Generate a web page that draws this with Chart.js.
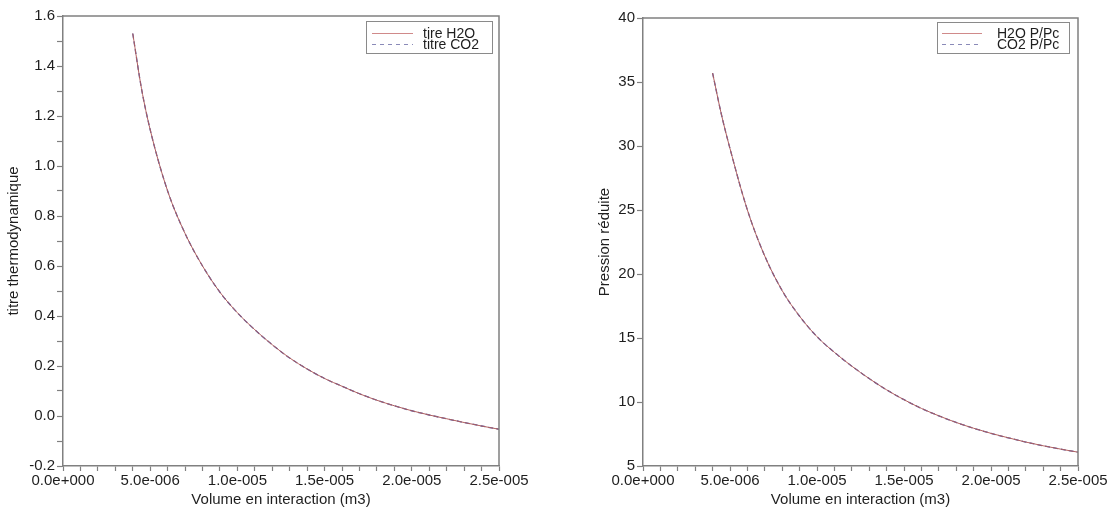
<!DOCTYPE html>
<html><head><meta charset="utf-8">
<script src="https://cdn.jsdelivr.net/npm/chart.js@4.4.0/dist/chart.umd.min.js"></script>
<style>
html,body{margin:0;padding:0;background:#fff;width:1111px;height:514px;overflow:hidden;}
canvas{position:absolute;top:0;}
#c1{left:0;} #c2{left:591px;}
</style></head><body>
<canvas id="c1" width="560" height="514"></canvas>
<canvas id="c2" width="520" height="514"></canvas>
<script>
// Volume en interaction (m3)
const volumes = [4e-6, 4.5e-6, 5e-6, 6e-6, 7e-6, 8e-6, 9e-6, 10e-6, 11e-6, 12e-6, 13e-6, 14e-6, 15e-6, 16e-6, 17e-6, 18e-6, 19e-6, 20e-6, 21e-6, 22e-6, 23e-6, 24e-6, 25e-6];
// titre thermodynamique
const titreH2O = [1.53, 1.31, 1.145, 0.90, 0.73, 0.60, 0.495, 0.413, 0.345, 0.285, 0.232, 0.188, 0.15, 0.119, 0.089, 0.063, 0.041, 0.021, 0.004, -0.011, -0.026, -0.04, -0.053];
const titreCO2 = [1.53, 1.31, 1.145, 0.90, 0.73, 0.60, 0.495, 0.413, 0.345, 0.285, 0.232, 0.188, 0.15, 0.119, 0.089, 0.063, 0.041, 0.021, 0.004, -0.011, -0.026, -0.04, -0.053];
// Pression réduite
const ppcH2O = [35.7, 32.5, 29.8, 25.0, 21.4, 18.7, 16.7, 15.1, 13.88, 12.8, 11.83, 10.95, 10.18, 9.5, 8.92, 8.4, 7.95, 7.55, 7.2, 6.87, 6.58, 6.32, 6.08];
const ppcCO2 = [35.7, 32.5, 29.8, 25.0, 21.4, 18.7, 16.7, 15.1, 13.88, 12.8, 11.83, 10.95, 10.18, 9.5, 8.92, 8.4, 7.95, 7.55, 7.2, 6.87, 6.58, 6.32, 6.08];
const labelsLeft = ['tire H2O', 'titre CO2'];
const labelsRight = ['H2O P/Pc', 'CO2 P/Pc'];
const xTitle = 'Volume en interaction (m3)';
const yTitleLeft = 'titre thermodynamique';
const yTitleRight = 'Pression réduite';

const FONT = '"Liberation Sans", Arial, sans-serif';
const AXIS = '#808080';
const TXT = '#1e1e1e';
const RED = '#b06060';
const BLUE = '#50509c';

function fmtExp(v) {
  let s = v.toExponential(1);
  const m = s.match(/^(-?[\d.]+)e([+-])(\d+)$/);
  return m[1] + 'e' + m[2] + m[3].padStart(3, '0');
}
function pts(ys) { return volumes.map((v, i) => ({x: v, y: ys[i]})); }

const frame = {
  id: 'frame',
  afterDraw(chart) {
    const {ctx, chartArea: a} = chart;
    ctx.save();
    ctx.strokeStyle = AXIS; ctx.lineWidth = 1.5;
    ctx.beginPath();
    ctx.moveTo(a.left, a.top); ctx.lineTo(a.right, a.top); ctx.lineTo(a.right, a.bottom);
    ctx.stroke();
    ctx.restore();
  }
};
const boxLegend = {
  id: 'boxLegend',
  afterDraw(chart, args, o) {
    const {ctx, chartArea: a} = chart;
    const x0 = Math.round(a.right - o.offsetRight - o.width);
    const y0 = Math.round(a.top + o.offsetTop);
    ctx.save();
    ctx.fillStyle = '#fff'; ctx.fillRect(x0, y0, o.width, o.height);
    ctx.strokeStyle = '#8a8a8a'; ctx.lineWidth = 1;
    ctx.strokeRect(x0 + 0.5, y0 + 0.5, o.width, o.height);
    chart.data.datasets.forEach((ds, i) => {
      const y = y0 + o.rowTop + i * o.rowGap;
      ctx.beginPath();
      ctx.setLineDash(i === 1 ? [4, 4] : []);
      ctx.strokeStyle = i === 0 ? '#d08a8a' : '#8a8ab8'; ctx.lineWidth = 1;
      ctx.moveTo(x0 + o.lineStart, y + 0.5); ctx.lineTo(x0 + o.lineEnd, y + 0.5); ctx.stroke();
      ctx.setLineDash([]);
      ctx.fillStyle = TXT; ctx.font = '14px ' + FONT;
      ctx.textBaseline = 'middle'; ctx.textAlign = 'left';
      ctx.fillText(ds.label, x0 + o.textX, y + 1);
    });
    ctx.restore();
  }
};

function makeChart(id, cfg) {
  return new Chart(document.getElementById(id), {
    type: 'line',
    data: {datasets: [
      {label: cfg.labels[0], data: pts(cfg.a), borderColor: RED, borderWidth: 1, pointRadius: 0, cubicInterpolationMode: 'monotone', fill: false},
      {label: cfg.labels[1], data: pts(cfg.b), borderColor: BLUE, borderWidth: 1.3, borderDash: [5, 3], pointRadius: 0, cubicInterpolationMode: 'monotone', fill: false}
    ]},
    options: {
      responsive: false, animation: false, devicePixelRatio: 1,
      layout: {padding: cfg.padding},
      plugins: {legend: {display: false}, tooltip: {enabled: false}, boxLegend: cfg.legend},
      scales: {
        x: {
          type: 'linear', min: 0, max: 2.5e-5,
          afterFit(s) { s.height = 48; },
          border: {display: true, color: AXIS, width: 1.5},
          grid: {display: true, drawOnChartArea: false, drawTicks: true, tickLength: 5, tickColor: AXIS, tickWidth: 1.2},
          ticks: {stepSize: 1e-6, autoSkip: false, maxRotation: 0, padding: 1, color: TXT,
            font: {family: FONT, size: 15},
            callback: (v) => (Math.round(v * 1e6) % 5 === 0 ? fmtExp(v) : '')},
          title: {display: true, text: xTitle, color: TXT, font: {family: FONT, size: 15}, padding: {top: 0, bottom: 5}}
        },
        y: {
          type: 'linear', min: cfg.ymin, max: cfg.ymax,
          afterFit(s) { s.width = cfg.yWidth; },
          border: {display: true, color: AXIS, width: 1.5},
          grid: {display: true, drawOnChartArea: false, drawTicks: true, tickLength: 6, tickColor: AXIS, tickWidth: 1.2},
          ticks: {stepSize: cfg.ystep, autoSkip: false, padding: 2, color: TXT,
            font: {family: FONT, size: 15}, callback: cfg.ylabel},
          title: {display: true, text: cfg.ytitle, color: TXT, font: {family: FONT, size: 15}, padding: {top: 5, bottom: 0}}
        }
      }
    },
    plugins: [frame, boxLegend]
  });
}

makeChart('c1', {
  labels: labelsLeft, a: titreH2O, b: titreCO2,
  padding: {left: 0, top: 16, right: 61, bottom: 0},
  ymin: -0.2, ymax: 1.6, ystep: 0.1, yWidth: 63, ytitle: yTitleLeft,
  ylabel: (v) => (Math.round(v * 10) % 2 === 0 ? v.toFixed(1) : ''),
  legend: {offsetRight: 7, offsetTop: 5, width: 126, height: 32, rowTop: 12, rowGap: 11, lineStart: 6, lineEnd: 47, textX: 57}
});
makeChart('c2', {
  labels: labelsRight, a: ppcH2O, b: ppcCO2,
  padding: {left: 0, top: 18, right: 33, bottom: 0},
  ymin: 5, ymax: 40, ystep: 5, yWidth: 52, ytitle: yTitleRight,
  ylabel: (v) => String(v),
  legend: {offsetRight: 9, offsetTop: 4, width: 132, height: 31, rowTop: 11, rowGap: 11, lineStart: 5, lineEnd: 45, textX: 60}
});
</script>
</body></html>
